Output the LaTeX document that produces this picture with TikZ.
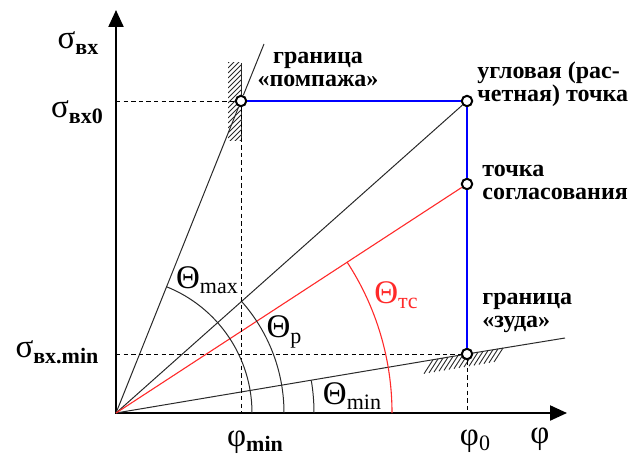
\documentclass[tikz,border=0pt]{standalone}
\usepackage{fontspec}
\setmainfont{Liberation Serif}
\usepackage{xcolor}
\usepackage{tikz}
\usetikzlibrary{arrows.meta,positioning,calc}
\definecolor{traitgris}{HTML}{2A2A2A}
\definecolor{regimbleu}{HTML}{0000FF}
\definecolor{tcrouge}{HTML}{FF2A2A}
\newcommand{\indice}[1]{\raisebox{-2.8pt}{\fontsize{11}{11}\selectfont #1}}

\begin{document}
\begin{tikzpicture}[
    x=0.5pt,y=0.5pt,
    axe/.style    = {line width=1.1pt,draw=black,
                     {Triangle[length=8.5pt,width=7.5pt]}-{Triangle[length=8.5pt,width=7.5pt]}},
    trait/.style  = {line width=0.5pt,draw=traitgris},
    rouge/.style  = {line width=0.55pt,draw=tcrouge},
    regime/.style = {line width=1.4pt,draw=regimbleu},
    tirets/.style = {line width=0.5pt,draw=black,dash pattern=on 2.2pt off 1.6pt},
    hach/.style   = {line width=0.45pt,draw=traitgris},
    pt/.style     = {circle,draw=black,line width=1pt,fill=white,inner sep=0pt,
                     minimum size=5.2pt},
    note/.style   = {font=\fontsize{12}{11.5}\selectfont\bfseries,inner sep=0pt},
    grec/.style   = {font=\fontsize{16.5}{16.5}\selectfont,inner sep=0pt},
  ]
  \useasboundingbox (0,0) rectangle (635,-460);

  % ── Repères ─────────────────────────────────────────────────────────────
  \coordinate (O)    at (116,-413);
  \coordinate (ytop) at (116,-10);
  \coordinate (xend) at (567,-413);
  \coordinate (y0)   at (116,-101);
  \coordinate (ymin) at (116,-354);
  \coordinate (xmin) at (241,-413);
  \coordinate (x0)   at (467,-413);
  \coordinate (pompfin) at (264,-44);
  \coordinate (zudfin)  at (565,-338);

  % ── Hachures ────────────────────────────────────────────────────────────
  \begin{scope}
    \clip (228,-63) rectangle (241,-140);
    \foreach \y in {50,55,...,150}
      \draw[hach] (241,-\y) -- ++(-13,-13);
  \end{scope}
  \draw[hach] (241,-63) -- (241,-140);
  \foreach \x in {433,438,...,503}
    \draw[hach] (\x,{-413+0.168*(\x-116)}) -- ++(-9,-14);

  % ── Points ──────────────────────────────────────────────────────────────
  \node[pt] (A) at (241,-101) {};
  \node[pt] (B) at (467,-101) {};
  \node[pt] (C) at (467,-184) {};
  \node[pt] (D) at (467,-354) {};

  % ── Axes ────────────────────────────────────────────────────────────────
  \draw[axe] (ytop) -- (O) -- (xend);

  % ── Droites ─────────────────────────────────────────────────────────────
  \draw[trait] (O) -- (A) -- (pompfin);
  \draw[trait] (O) -- (D) -- (zudfin);
  \draw[trait] (O) -- (B);
  \draw[rouge] (O) -- (C);
  \draw[regime] (A) -- (B) -- (C) -- (D);
  \draw[tirets] (y0) -- (A) -- (xmin);
  \draw[tirets] (ymin) -- (D) -- (x0);

  % ── Arcs ────────────────────────────────────────────────────────────────
  \draw[trait] (O) ++(0:136) arc[start angle=0,end angle=68.2,radius=136];
  \draw[trait] (O) ++(0:168) arc[start angle=0,end angle=41.6,radius=168];
  \draw[trait] (O) ++(0:198) arc[start angle=0,end angle=9.5,radius=198];
  \draw[rouge] (O) ++(0:276) arc[start angle=0,end angle=33.1,radius=276];

  % ── Étiquettes ──────────────────────────────────────────────────────────
  \node[grec] (sgvx)    at (78,-43)  {σ\indice{\bfseries вх}};
  \node[grec] (sgvx0)   at (77,-112) {σ\indice{\bfseries вх0}};
  \node[grec] (sgvxmin) at (57,-352) {σ\indice{\bfseries вх.min}};
  \node[grec] (phmin)   at (255,-442) {φ\indice{\bfseries min}};
  \node[grec] (ph0)     at (475,-441) {φ\indice{0}};
  \node[grec] (ph)      at (540,-439) {φ};
  \node[grec] (thmax)   at (207,-280) {Θ\indice{max}};
  \node[grec] (thp)     at (284,-332) {Θ\indice{p}};
  \node[grec] (thmin)   at (352,-396) {Θ\indice{min}};
  \node[grec,text=tcrouge] (thtc) at (396,-295) {Θ\indice{тс}};

  \node[note,align=center] (npomp) at (318,-69)
       {граница\\«помпажа»};
  \node[note,align=left,anchor=west] (nangle) at (477,-84)
       {угловая (рас-\\четная) точка};
  \node[note,align=left,anchor=west] (nsogl) at (482,-182)
       {точка\\согласования};
  \node[note,align=left,anchor=west] (nzud) at (482,-313)
       {граница\\«зуда»};

\end{tikzpicture}
\end{document}
